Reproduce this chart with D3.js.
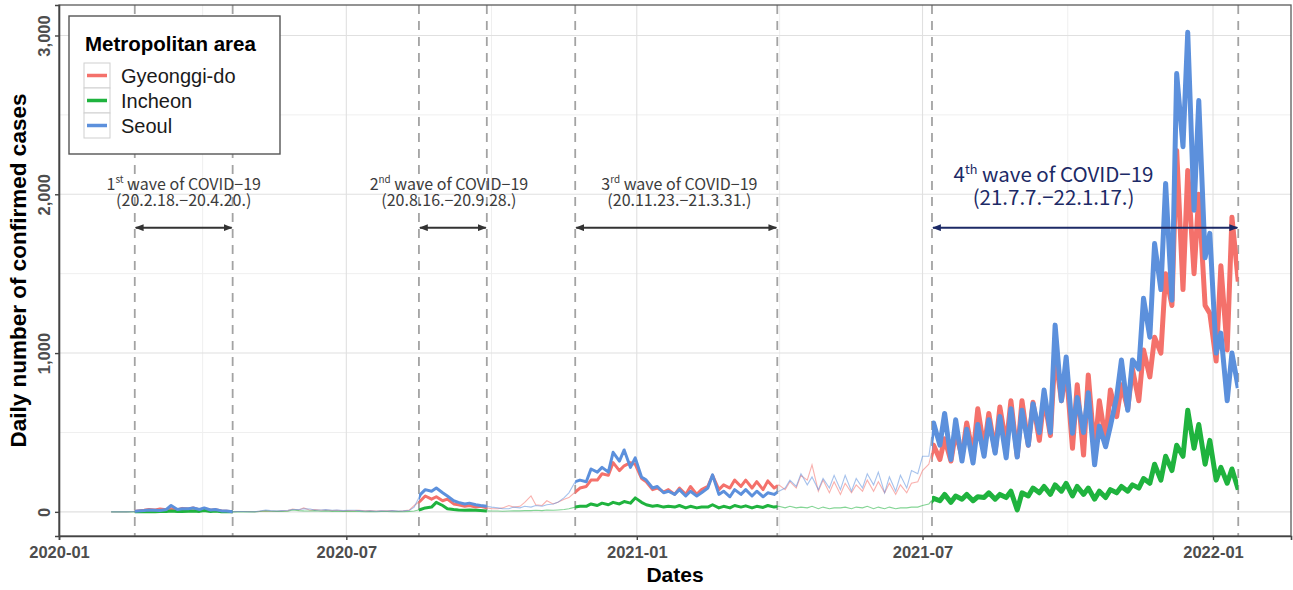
<!DOCTYPE html>
<html>
<head>
<meta charset="utf-8">
<script src="https://cdn.jsdelivr.net/npm/d3@7"></script>
<style>
body { margin: 0; background: #fff; }
</style>
</head>
<body>
<div id="chart"></div>
<script>
chart_width = 1293;
chart_height = 590;

// two readings per week: Monday and Thursday, starting Monday 2020-02-03
first_monday = '2020-02-03';

seoul = [
	0,1, 0,0, 2,5, 8,12, 10,8, 15,40, 15,20, 20,25, 15,25, 12,15,          // wk 0-9
	6,5, 1,2, 2,1, 1,5, 12,8, 5,8, 10,15, 15,20, 18,12, 12,14,              // wk 10-19
	10,12, 8,10, 10,8, 5,6, 4,6, 5,8, 5,6, 10,30, 110,140, 130,150,         // wk 20-29
	120,100, 70,60, 50,55, 45,40, 35,30, 25,20, 20,30, 25,35, 30,40, 35,45, // wk 30-39
	50,60, 90,120, 190,200, 190,270, 250,280, 250,375, 320,390, 280,340, 220,200, 150,160, // wk 40-49
	120,130, 110,140, 100,130, 100,120, 150,233, 110,130, 95,140, 110,140, 100,130, 95,120, // wk 50-59
	110,130, 150,200, 160,240, 170,220, 140,210, 150,230, 140,230, 130,210, 150,240, 170,250, // wk 60-69
	120,220, 130,230, 150,260, 240,350, 350,560, 420,620, 330,580, 320,520, 308,550, 350,580, // wk 70-79
	370,600, 340,650, 345,640, 420,680, 500,767, 500,1176, 700,975, 495,720, 500,750, 296,540, // wk 80-89
	410,540, 725,956, 640,956, 900,1345, 1100,1690, 1400,2068, 1333,2760, 2300,3020, 1900,2590, 1600,1754, // wk 90-99
	1000,1126, 700,1000, 780                                                  // wk 100-102
];

gyeonggi = [
	0,1, 0,0, 2,6, 10,15, 12,18, 14,20, 12,22, 18,25, 12,20, 10,14,
	6,4, 1,2, 2,2, 1,3, 6,4, 4,6, 8,18, 12,25, 10,14, 10,12,
	8,10, 6,8, 8,10, 6,8, 5,6, 6,8, 4,6, 12,40, 70,100, 80,95,
	70,80, 50,45, 35,40, 30,35, 25,20, 20,25, 40,30, 35,60, 100,45, 40,70,
	50,60, 80,90, 125,150, 160,200, 200,240, 230,310, 260,290, 310,300, 210,190, 140,150,
	125,140, 110,150, 110,160, 110,140, 160,230, 140,170, 150,200, 160,200, 150,190, 140,195,
	150,170, 140,190, 150,230, 200,296, 130,200, 120,190, 110,180, 120,170, 130,200, 130,190,
	120,180, 110,170, 120,180, 190,260, 300,420, 330,460, 320,500, 350,560, 360,650, 400,620,
	380,660, 420,700, 350,700, 420,690, 450,720, 480,1000, 700,900, 400,800, 358,862, 380,700,
	450,767, 600,800, 650,900, 700,1020, 850,1100, 1000,1500, 1300,2276, 1400,2150, 1500,2000, 1300,1250,
	950,1550, 1020,1856, 1450
];

incheon = [
	0,0, 0,0, 0,0, 1,2, 1,2, 3,5, 2,3, 4,6, 3,8, 2,5,
	1,2, 0,1, 0,1, 0,2, 6,4, 3,2, 4,12, 8,6, 5,8, 4,6,
	3,4, 2,3, 2,3, 1,2, 1,2, 2,1, 2,1, 3,5, 15,25, 30,60,
	40,20, 15,12, 10,12, 10,8, 6,5, 5,4, 5,6, 6,8, 8,10, 8,12,
	10,12, 15,20, 30,35, 35,50, 40,55, 45,60, 50,65, 55,88, 60,45, 35,40,
	30,35, 30,40, 25,35, 25,30, 30,45, 25,35, 25,40, 30,38, 25,35, 28,40,
	30,35, 25,35, 25,30, 25,35, 20,30, 20,25, 25,30, 20,30, 25,35, 20,30,
	20,30, 20,25, 25,30, 30,40, 50,85, 70,110, 60,100, 80,110, 70,95, 90,120,
	80,110, 90,130, 12,120, 100,150, 120,160, 110,170, 130,180, 100,160, 110,150, 80,130,
	90,140, 120,160, 130,170, 150,210, 180,300, 200,350, 260,420, 350,640, 400,550, 300,450,
	200,280, 180,270, 140
];

series_names = ['Gyeonggi-do', 'Incheon', 'Seoul'];
series_colors = ['#F4716B', '#1FB33E', '#5C90DC'];

wave_starts = ['2020-02-18', '2020-08-16', '2020-11-23', '2021-07-07'];
wave_ends = ['2020-04-20', '2020-09-28', '2021-03-31', '2022-01-17'];
wave_nums = ['1', '2', '3', '4'];
wave_sups = ['st', 'nd', 'rd', 'th'];
wave_periods = ['(20.2.18.\u221220.4.20.)', '(20.8.16.\u221220.9.28.)', '(20.11.23.\u221221.3.31.)', '(21.7.7.\u221222.1.17.)'];
wave_label_dates = ['2020-03-20', '2020-09-04', '2021-01-28', '2021-09-22'];
arrow_value = 1790;

x_ticks = ['2020-01-01', '2020-07-01', '2021-01-01', '2021-07-01', '2022-01-01'];
y_ticks = [0, 1000, 2000, 3000];
y_minor = [500, 1500, 2500];

parse = d3.timeParse('%Y-%m-%d');
start_day = parse(first_monday);
sample_dates = seoul.map((v, i) => d3.timeDay.offset(start_day, Math.floor(i / 2) * 7 + (i % 2) * 3));

all_series = [gyeonggi, incheon, seoul].map(function(vals, s) {
	return {
		name: series_names[s],
		color: series_colors[s],
		values: vals.map((v, i) => ({ date: sample_dates[i], value: v }))
	};
});

panel = { left: 59, right: 1291, top: 5, bottom: 536 };

x = d3.scaleTime()
	.domain([parse('2020-01-01'), new Date(2022, 1, 19, 10)])
	.range([panel.left, panel.right]);

y = d3.scaleLinear()
	.domain([-152, 3192])
	.range([panel.bottom, panel.top]);

svg = d3.select('#chart')
	.append('svg')
	.attr('width', chart_width)
	.attr('height', chart_height)
	.style('font-family', '"Liberation Sans", Arial, sans-serif');

defs = svg.append('defs');

// grid
x_major = x_ticks.map(parse);
x_minor_px = d3.pairs(x_major).map(p => (x(p[0]) + x(p[1])) / 2);
grid = svg.append('g');
grid.selectAll('.ymin').data(y_minor).enter().append('line')
	.attr('x1', panel.left).attr('x2', panel.right)
	.attr('y1', d => y(d)).attr('y2', d => y(d))
	.attr('stroke', '#efefef').attr('stroke-width', 1);
grid.selectAll('.xmin').data(x_minor_px).enter().append('line')
	.attr('x1', d => d).attr('x2', d => d)
	.attr('y1', panel.top).attr('y2', panel.bottom)
	.attr('stroke', '#efefef').attr('stroke-width', 1);
grid.selectAll('.ymaj').data(y_ticks).enter().append('line')
	.attr('x1', panel.left).attr('x2', panel.right)
	.attr('y1', d => y(d)).attr('y2', d => y(d))
	.attr('stroke', '#e0e0e0').attr('stroke-width', 1.1);
grid.selectAll('.xmaj').data(x_major).enter().append('line')
	.attr('x1', d => x(d)).attr('x2', d => x(d))
	.attr('y1', panel.top).attr('y2', panel.bottom)
	.attr('stroke', '#e0e0e0').attr('stroke-width', 1.1);

// dashed wave boundaries
bounds = wave_starts.concat(wave_ends).map(parse);
svg.append('g').selectAll('line').data(bounds).enter().append('line')
	.attr('x1', d => x(d)).attr('x2', d => x(d))
	.attr('y1', panel.top).attr('y2', panel.bottom)
	.attr('stroke', '#a3a3a3')
	.attr('stroke-width', 1.8)
	.attr('stroke-dasharray', '9,7');

// clip regions for thick wave segments
clip_a = defs.append('clipPath').attr('id', 'clip-waves');
wave_starts.slice(0, 3).forEach(function(s, i) {
	clip_a.append('rect')
		.attr('x', x(parse(s))).attr('y', 0)
		.attr('width', x(parse(wave_ends[i])) - x(parse(s)))
		.attr('height', chart_height);
});
clip_b = defs.append('clipPath').attr('id', 'clip-wave4');
clip_b.append('rect')
	.attr('x', x(parse(wave_starts[3]))).attr('y', 0)
	.attr('width', x(parse(wave_ends[3])) - x(parse(wave_starts[3])))
	.attr('height', chart_height);

line_gen = d3.line()
	.x(d => x(d.date))
	.y(d => y(d.value));

lines = svg.append('g');
// thin lines across the whole period
all_series.forEach(function(s) {
	lines.append('path')
		.attr('d', line_gen(s.values))
		.attr('fill', 'none')
		.attr('stroke', s.color)
		.attr('stroke-width', 1.1)
		.attr('stroke-opacity', 0.55);
});
// thick lines during the waves
all_series.forEach(function(s) {
	lines.append('path')
		.attr('d', line_gen(s.values))
		.attr('clip-path', 'url(#clip-waves)')
		.attr('fill', 'none')
		.attr('stroke', s.color)
		.attr('stroke-width', 3)
		.attr('stroke-linejoin', 'round');
	lines.append('path')
		.attr('d', line_gen(s.values))
		.attr('clip-path', 'url(#clip-wave4)')
		.attr('fill', 'none')
		.attr('stroke', s.color)
		.attr('stroke-width', 5)
		.attr('stroke-linejoin', 'round');
});

// arrows and labels
arrow_colors = ['#333333', '#333333', '#333333', '#1c2a66'];
arrow_colors.forEach(function(c, i) {
	defs.append('marker')
		.attr('id', 'head' + i)
		.attr('viewBox', '0 0 10 8')
		.attr('refX', 9).attr('refY', 4)
		.attr('markerUnits', 'userSpaceOnUse')
		.attr('markerWidth', 9).attr('markerHeight', 7)
		.attr('orient', 'auto-start-reverse')
		.append('path')
		.attr('d', 'M0,0 L10,4 L0,8 Z')
		.attr('fill', c);
});

ann = svg.append('g');
wave_starts.forEach(function(s, i) {
	ay = y(arrow_value);
	ann.append('line')
		.attr('x1', x(parse(s)) + 1).attr('x2', x(parse(wave_ends[i])) - 1)
		.attr('y1', ay).attr('y2', ay)
		.attr('stroke', arrow_colors[i])
		.attr('stroke-width', 2)
		.attr('marker-start', 'url(#head' + i + ')')
		.attr('marker-end', 'url(#head' + i + ')');

	big = i === 3;
	fs = big ? 20.5 : 16;
	cx = x(parse(wave_label_dates[i]));
	t1 = ann.append('text')
		.attr('x', cx)
		.attr('y', ay - (big ? 45.5 : 37.5))
		.attr('text-anchor', 'middle')
		.style('font-family', '"Noto Sans CJK KR", "Noto Sans", sans-serif')
		.style('font-size', fs + 'px')
		.attr('fill', big ? '#1c2a66' : '#3c3c3c');
	t1.append('tspan').text(wave_nums[i]);
	t1.append('tspan').text(wave_sups[i])
		.style('font-size', (fs * 0.62) + 'px')
		.attr('dy', -fs * 0.42);
	t1.append('tspan').text(' wave of COVID\u221219')
		.attr('dy', fs * 0.42);
	ann.append('text')
		.attr('x', cx)
		.attr('y', ay - (big ? 22.5 : 21.5))
		.attr('text-anchor', 'middle')
		.style('font-family', '"Noto Sans CJK KR", "Noto Sans", sans-serif')
		.style('font-size', fs + 'px')
		.attr('fill', big ? '#1c2a66' : '#3c3c3c')
		.text(wave_periods[i]);
});

// panel border and axes
svg.append('rect')
	.attr('x', panel.left).attr('y', panel.top)
	.attr('width', panel.right - panel.left)
	.attr('height', panel.bottom - panel.top)
	.attr('fill', 'none')
	.attr('stroke', '#5a5a5a')
	.attr('stroke-width', 1.3);

x_axis = svg.append('g')
	.attr('transform', 'translate(0,' + panel.bottom + ')')
	.call(d3.axisBottom(x).tickValues(x_major).tickFormat(d3.timeFormat('%Y-%m')).tickSize(4).tickPadding(6));
x_axis.select('.domain').attr('stroke', '#444').attr('stroke-width', 1.6);
x_axis.selectAll('.tick line').attr('stroke', '#444').attr('stroke-width', 1.4);
x_axis.selectAll('.tick text')
	.attr('fill', '#4d4d4d')
	.style('font-size', '16.5px')
	.style('font-weight', 'bold')
	.style('font-family', '"Liberation Sans", Arial, sans-serif');

y_axis = svg.append('g')
	.attr('transform', 'translate(' + panel.left + ',0)')
	.call(d3.axisLeft(y).tickValues(y_ticks).tickFormat(d3.format(',')).tickSize(4));
y_axis.select('.domain').attr('stroke', '#444').attr('stroke-width', 1.6);
y_axis.selectAll('.tick line').attr('stroke', '#444').attr('stroke-width', 1.4);
y_axis.selectAll('.tick text')
	.attr('transform', 'rotate(-90)')
	.attr('x', 0).attr('y', -9).attr('dy', 0)
	.attr('text-anchor', 'middle')
	.attr('fill', '#4d4d4d')
	.style('font-size', '16.5px')
	.style('font-weight', 'bold')
	.style('font-family', '"Liberation Sans", Arial, sans-serif');

svg.append('text')
	.attr('x', (panel.left + panel.right) / 2)
	.attr('y', 582)
	.attr('text-anchor', 'middle')
	.style('font-size', '21px')
	.style('font-weight', 'bold')
	.text('Dates');

svg.append('text')
	.attr('transform', 'translate(26,' + (panel.top + panel.bottom) / 2 + ') rotate(-90)')
	.attr('text-anchor', 'middle')
	.style('font-size', '22.5px')
	.style('font-weight', 'bold')
	.text('Daily number of confirmed cases');

// legend
legend = svg.append('g');
legend.append('rect')
	.attr('x', 69).attr('y', 16)
	.attr('width', 211).attr('height', 138)
	.attr('fill', '#fff')
	.attr('stroke', '#555')
	.attr('stroke-width', 1.4);
legend.append('text')
	.attr('x', 85).attr('y', 51)
	.style('font-size', '20.5px')
	.style('font-weight', 'bold')
	.text('Metropolitan area');
all_series.forEach(function(s, i) {
	ky = 63 + i * 25;
	legend.append('rect')
		.attr('x', 84).attr('y', ky)
		.attr('width', 26).attr('height', 25)
		.attr('fill', '#fff')
		.attr('stroke', '#cfcfcf')
		.attr('stroke-width', 1);
	legend.append('line')
		.attr('x1', 87).attr('x2', 107)
		.attr('y1', ky + 12.5).attr('y2', ky + 12.5)
		.attr('stroke', s.color)
		.attr('stroke-width', 3.5);
	legend.append('text')
		.attr('x', 121).attr('y', ky + 20)
		.style('font-size', '20px')
		.attr('fill', '#1a1a1a')
		.text(s.name);
});
</script>
</body>
</html>
